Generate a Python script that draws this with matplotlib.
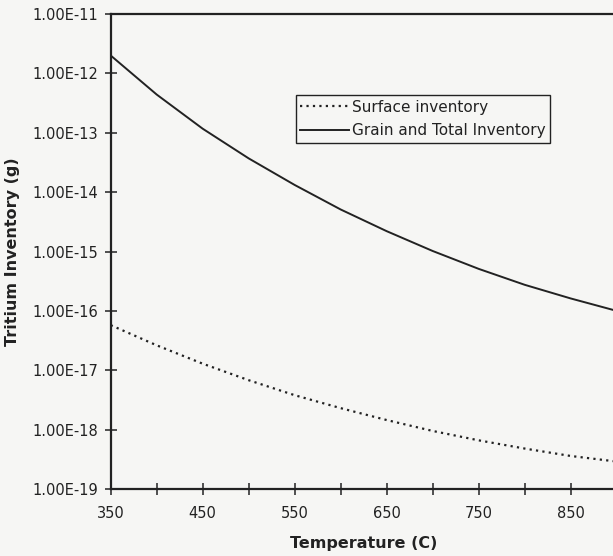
import matplotlib
matplotlib.use("Agg")
import matplotlib.pyplot as plt

# Values (temperature in C, inventory in g)
temperature = [350, 400, 450, 500, 550, 600, 650, 700, 750, 800, 850, 900]
surface_inventory = [5.75e-17, 2.63e-17, 1.29e-17, 6.8e-18, 3.8e-18, 2.3e-18,
                     1.45e-18, 9.5e-19, 6.6e-19, 4.8e-19, 3.6e-19, 2.9e-19]
grain_total_inventory = [2.0e-12, 4.4e-13, 1.17e-13, 3.7e-14, 1.32e-14, 5.1e-15,
                         2.2e-15, 1.02e-15, 5.1e-16, 2.75e-16, 1.62e-16, 1.0e-16]

x_ticks = [350, 400, 450, 500, 550, 600, 650, 700, 750, 800, 850, 900]
x_tick_labels = ["350", "", "450", "", "550", "", "650", "", "750", "", "850", ""]
y_ticks = [1e-11, 1e-12, 1e-13, 1e-14, 1e-15, 1e-16, 1e-17, 1e-18, 1e-19]
y_tick_labels = ["1.00E-11", "1.00E-12", "1.00E-13", "1.00E-14", "1.00E-15",
                 "1.00E-16", "1.00E-17", "1.00E-18", "1.00E-19"]

ink = "#222222"
paper = "#f6f6f4"

plt.rcParams["font.family"] = ["DejaVu Sans"]

fig = plt.figure(figsize=(6.13, 5.56), dpi=100, facecolor=paper)
# the right edge of the plot runs just past the edge of the scan
ax = fig.add_axes([0.1806, 0.1205, 0.8254, 0.8543], facecolor=paper)

ax.plot(temperature, surface_inventory, color=ink, lw=1.6,
        linestyle=(0, (1, 1.9)), label="Surface inventory")
ax.plot(temperature, grain_total_inventory, color=ink, lw=1.4,
        label="Grain and Total Inventory")

ax.set_yscale("log")
ax.set_xlim(350, 900)
ax.set_ylim(1e-19, 1e-11)

ax.set_xticks(x_ticks)
ax.set_xticklabels(x_tick_labels)
ax.set_yticks(y_ticks)
ax.set_yticklabels(y_tick_labels)
ax.minorticks_off()
ax.tick_params(axis="both", direction="inout", length=8, width=1.1,
               colors=ink, labelsize=10.5)
ax.tick_params(axis="x", pad=8)
ax.tick_params(axis="y", pad=5)

for side in ["left", "bottom", "top", "right"]:
    ax.spines[side].set_linewidth(1.6)
    ax.spines[side].set_color(ink)

ax.set_xlabel("Temperature (C)", fontsize=11.5, fontweight="bold",
              color=ink, va="center")
ax.xaxis.set_label_coords(0.5, -0.114)
ax.set_ylabel("Tritium Inventory (g)", fontsize=11.5, fontweight="bold",
              color=ink, va="center")
ax.yaxis.set_label_coords(-0.195, 0.5)

leg = ax.legend(loc="upper left", bbox_to_anchor=(0.366, 0.829),
                fontsize=11, frameon=True, fancybox=False,
                handlelength=3.2, handletextpad=0.15, borderpad=0.3,
                labelspacing=0.55, borderaxespad=0)
leg.get_frame().set_edgecolor(ink)
leg.get_frame().set_linewidth(1.0)
leg.get_frame().set_facecolor(paper)
leg.get_frame().set_alpha(1)
for t in leg.get_texts():
    t.set_color(ink)

fig.savefig("out.png", dpi=100, facecolor=paper)
